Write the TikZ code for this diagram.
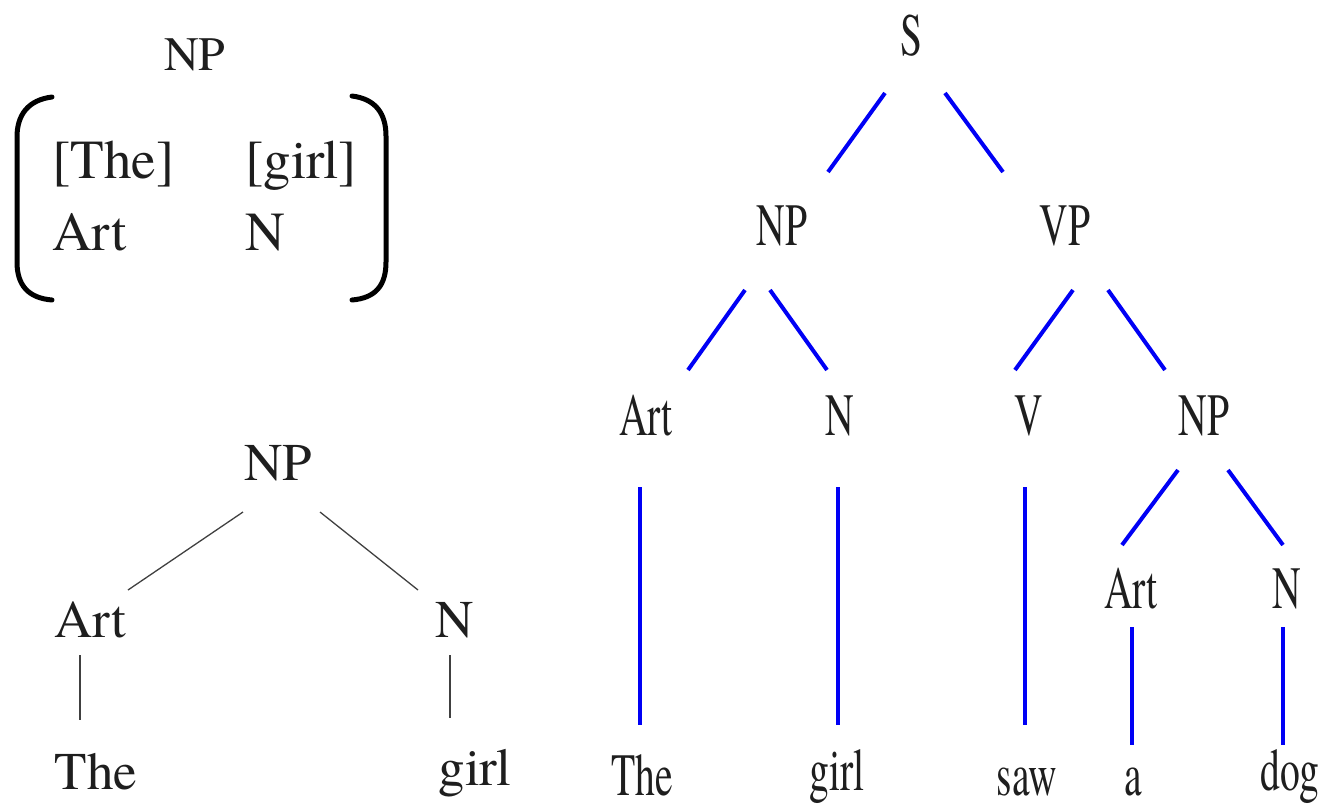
\documentclass[tikz,border=0pt]{standalone}
\usepackage{fontspec}
\setmainfont{texgyretermes-regular.otf}
\newfontfamily\condfont{texgyretermes-regular.otf}[FakeStretch=0.66]
\definecolor{ink}{HTML}{1E1E1E}
\definecolor{treeblue}{RGB}{0,0,245}
\tikzset{
  lefttxt/.style={anchor=base, inner sep=0pt, text=ink, font=\rmfamily\fontsize{53}{60}\selectfont},
  toptxt/.style={anchor=base, inner sep=0pt, text=ink, font=\rmfamily\fontsize{48}{56}\selectfont},
  mattxt/.style={anchor=base west, inner sep=0pt, text=ink, font=\rmfamily\fontsize{55}{62}\selectfont},
  righttxt/.style={anchor=base, inner sep=0pt, text=ink, font=\condfont\fontsize{60}{70}\selectfont},
  thinedge/.style={draw=ink!85, line width=1.3pt},
  blueedge/.style={draw=treeblue, line width=4pt},
  paren/.style={draw=black, line width=5pt, line cap=round}
}
\begin{document}
\begin{tikzpicture}[x=1pt,y=-1pt]
\useasboundingbox (0,0) rectangle (1333,807);

% ---------- matrix at top left ----------
\node[toptxt] (mNP) at (195,70) {NP};
\node[mattxt] (mThe) at (52,178) {[The]};
\node[mattxt] (mgirl) at (245,178) {[girl]};
\node[mattxt] (mArt) at (52,250) {Art};
\node[mattxt] (mN) at (245,250) {N};
\draw[paren] (52,97) .. controls (28,100) and (17,115) .. (17,137) -- (17,262)
  .. controls (17,285) and (28,298) .. (52,300);
\draw[paren] (352,96) .. controls (376,99) and (386,114) .. (386,136) -- (386,262)
  .. controls (386,285) and (376,298) .. (352,300);

% ---------- small tree bottom left ----------
\node[lefttxt] (lNP) at (278,480) {NP};
\node[lefttxt] (lArt) at (90,637) {Art};
\node[lefttxt] (lN) at (455,637) {N};
\node[lefttxt] (lThe) at (96,789) {The};
\node[lefttxt] (lgirl) at (475,785) {girl};
\draw[thinedge] ([shift={(-35,32)}]lNP.base) -- ([shift={(38,-47)}]lArt.base);
\draw[thinedge] ([shift={(42,32)}]lNP.base) -- ([shift={(-37,-47)}]lN.base);
\draw[thinedge] ([shift={(-10,18)}]lArt.base) -- ([shift={(-16,-69)}]lThe.base);
\draw[thinedge] ([shift={(-5,18)}]lN.base) -- ([shift={(-25,-67)}]lgirl.base);

% ---------- big tree on the right ----------
\node[righttxt] (S) at (911,55) {S};
\node[righttxt] (NPa) at (782,245) {NP};
\node[righttxt] (VP) at (1065,245) {VP};
\node[righttxt] (Arta) at (646,435) {Art};
\node[righttxt] (Na) at (840,435) {N};
\node[righttxt] (V) at (1029,435) {V};
\node[righttxt] (NPb) at (1204,435) {NP};
\node[righttxt] (Artb) at (1131,608) {Art};
\node[righttxt] (Nb) at (1287,608) {N};
\node[righttxt] (wThe) at (642,795) {The};
\node[righttxt] (wgirl) at (837,790) {girl};
\node[righttxt] (wsaw) at (1027,795) {saw};
\node[righttxt] (wa) at (1133,795) {a};
\node[righttxt] (wdog) at (1290,790) {dog};

\draw[blueedge] ([shift={(-26,38)}]S.base) -- ([shift={(46,-73)}]NPa.base);
\draw[blueedge] ([shift={(34,38)}]S.base) -- ([shift={(-62,-73)}]VP.base);
\draw[blueedge] ([shift={(-37,45)}]NPa.base) -- ([shift={(42,-65)}]Arta.base);
\draw[blueedge] ([shift={(-12,45)}]NPa.base) -- ([shift={(-13,-65)}]Na.base);
\draw[blueedge] ([shift={(8,45)}]VP.base) -- ([shift={(-14,-65)}]V.base);
\draw[blueedge] ([shift={(43,45)}]VP.base) -- ([shift={(-39,-65)}]NPb.base);
\draw[blueedge] ([shift={(-6,52)}]Arta.base) -- ([shift={(-2,-70)}]wThe.base);
\draw[blueedge] ([shift={(-2,52)}]Na.base) -- ([shift={(1,-65)}]wgirl.base);
\draw[blueedge] ([shift={(-4,52)}]V.base) -- ([shift={(-2,-70)}]wsaw.base);
\draw[blueedge] ([shift={(-26,35)}]NPb.base) -- ([shift={(-9,-63)}]Artb.base);
\draw[blueedge] ([shift={(24,35)}]NPb.base) -- ([shift={(-4,-63)}]Nb.base);
\draw[blueedge] ([shift={(1,19)}]Artb.base) -- ([shift={(-1,-50)}]wa.base);
\draw[blueedge] ([shift={(-4,19)}]Nb.base) -- ([shift={(-7,-45)}]wdog.base);
\end{tikzpicture}
\end{document}
